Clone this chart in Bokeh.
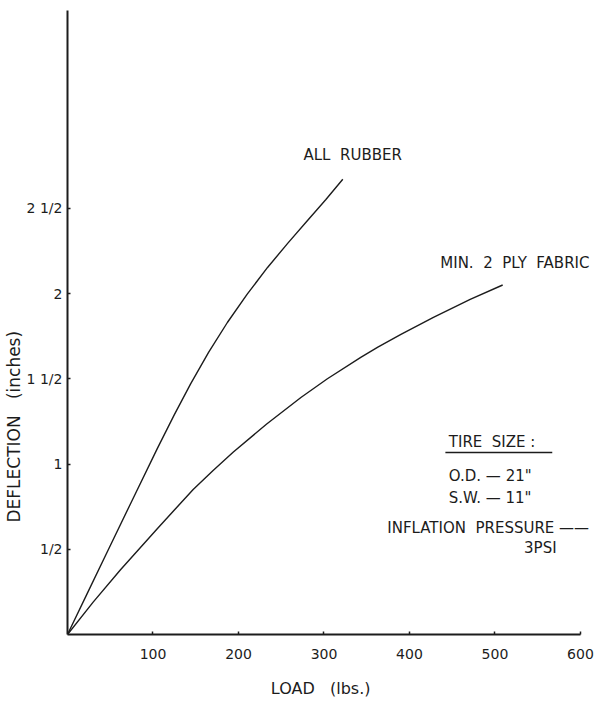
import math
from bokeh.plotting import figure
from bokeh.models import FixedTicker, Label, Range1d, Title
from bokeh.embed import file_html
from bokeh.resources import INLINE

# Data (load in lbs, deflection in inches)
rubber_load = [0, 23, 47, 74, 105, 125, 144, 165, 187, 210, 234, 258, 281, 302, 322]
rubber_defl = [0, 0.24, 0.49, 0.77, 1.09, 1.29, 1.47, 1.655, 1.83, 1.995, 2.153, 2.297, 2.43, 2.55, 2.67]

fabric_load = [0, 30, 62, 105, 125, 147, 170, 194, 233, 273, 304, 343, 363, 390, 428, 471, 509]
fabric_defl = [0, 0.19, 0.38, 0.62, 0.73, 0.85, 0.96, 1.07, 1.235, 1.39, 1.50, 1.625, 1.685, 1.76, 1.86, 1.965, 2.05]

x_ticks = [100, 200, 300, 400, 500, 600]
y_ticks = [0.5, 1, 1.5, 2, 2.5]
y_tick_labels = {0.5: "1/2", 1: "1", 1.5: "1 1/2", 2: "2", 2.5: "2 1/2"}

FONT = "DejaVu Sans"
INK = "#1c1c1c"
NB = "\u00a0"

# frame: x 67..614 px, 600 lbs at 580 px -> range end ~639.8
p = figure(width=614, height=701, output_backend="svg", toolbar_location=None,
           x_range=Range1d(0, 639.8), y_range=Range1d(0, 3.66),
           min_border_left=67, min_border_right=0, min_border_top=10, min_border_bottom=67)
p.outline_line_color = None
p.xgrid.visible = False
p.ygrid.visible = False
p.background_fill_color = "white"
p.border_fill_color = "white"

for ax in (p.xaxis[0], p.yaxis[0]):
    ax.axis_line_width = 2
    ax.axis_line_color = INK
    ax.major_tick_line_color = INK
    ax.major_tick_line_width = 1.5
    ax.major_tick_in = 3
    ax.major_tick_out = 0
    ax.minor_tick_line_color = None
    ax.major_label_text_font = FONT
    ax.major_label_text_font_size = "14px"
    ax.major_label_text_color = INK

p.xaxis[0].bounds = (0, 600)
p.xaxis[0].ticker = FixedTicker(ticks=x_ticks)
p.xaxis[0].major_label_standoff = 14
p.xaxis[0].axis_label = "LOAD" + NB + NB + NB + "(lbs.)" + NB * 8
p.xaxis[0].axis_label_text_font = FONT
p.xaxis[0].axis_label_text_font_size = "16px"
p.xaxis[0].axis_label_text_font_style = "normal"
p.xaxis[0].axis_label_text_color = INK
p.xaxis[0].axis_label_standoff = 17

p.yaxis[0].ticker = FixedTicker(ticks=y_ticks)
p.yaxis[0].major_label_overrides = y_tick_labels
p.yaxis[0].major_label_standoff = 5

ytitle = Title(text="DEFLECTION" + NB + NB + NB + "(inches)", align="left", offset=112,
               standoff=0, text_font=FONT, text_font_size="17px",
               text_font_style="normal", text_color=INK)
p.add_layout(ytitle, "left")

p.line(rubber_load, rubber_defl, line_color=INK, line_width=1.4)
p.line(fabric_load, fabric_defl, line_color=INK, line_width=1.4)

# underline of "TIRE SIZE :"
p.segment(x0=[442], y0=[1.068], x1=[567], y1=[1.068], line_color=INK, line_width=1.5)

def lab(x, y, text, size="15px", align="left"):
    p.add_layout(Label(x=x, y=y, text=text, text_font=FONT, text_font_size=size,
                       text_color=INK, text_align=align, text_baseline="middle"))

lab(276, 2.81, "ALL" + NB + NB + "RUBBER")
lab(436, 2.18, "MIN." + NB + NB + "2" + NB + NB + "PLY" + NB + NB + "FABRIC")
lab(446, 1.127, "TIRE" + NB + NB + "SIZE" + NB + ":")
lab(446, 0.927, "O.D." + NB + "\u2014" + NB + "21\"")
lab(446, 0.798, "S.W." + NB + "\u2014" + NB + "11\"")
lab(374, 0.622, "INFLATION" + NB + NB + "PRESSURE" + NB + "\u2014\u2014")
lab(534, 0.51, "3PSI")

open("out.html", "w").write(file_html(p, INLINE))
